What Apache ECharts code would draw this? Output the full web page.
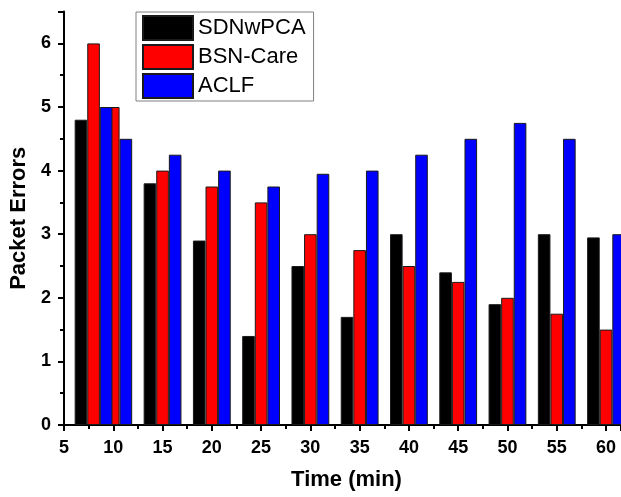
<!DOCTYPE html>
<html>
<head>
<meta charset="utf-8">
<script src="https://cdn.jsdelivr.net/npm/echarts@6/dist/echarts.min.js"></script>
<style>
html,body{margin:0;padding:0;background:#fff;}
#chart{width:621px;height:497px;}
</style>
</head>
<body>
<div id="chart"></div>
<script>
// Data
var times = [8, 10, 15, 20, 25, 30, 35, 40, 45, 50, 55, 60];
var sdnwpca = [4.8, null, 3.8, 2.9, 1.4, 2.5, 1.7, 3.0, 2.4, 1.9, 3.0, 2.95];
var bsnCare = [6.0, 5.0, 4.0, 3.75, 3.5, 3.0, 2.75, 2.5, 2.25, 2.0, 1.75, 1.5];
var aclf = [5.0, 4.5, 4.25, 4.0, 3.75, 3.95, 4.0, 4.25, 4.5, 4.75, 4.5, 3.0];
var seriesNames = ['SDNwPCA', 'BSN-Care', 'ACLF'];
var seriesColors = ['#000000', '#ff0000', '#0000ff'];

function pairs(vals) {
  return times.map(function (t, i) { return [t, vals[i]]; });
}

var font = '"Liberation Sans", Arial, sans-serif';
var chart = echarts.init(document.getElementById('chart'), null, {renderer: 'canvas'});
var allVals = [sdnwpca, bsnCare, aclf];

chart.setOption({
  animation: false,
  backgroundColor: '#ffffff',
  grid: {left: 64, right: 0, top: 11.6, bottom: 72, containLabel: false, outerBoundsMode: 'none'},
  legend: {
    orient: 'vertical',
    left: 136,
    top: 12,
    itemWidth: 50,
    itemHeight: 24,
    itemGap: 3,
    padding: [3, 8, 2, 6],
    borderColor: '#808080',
    borderWidth: 1,
    icon: 'rect',
    data: seriesNames,
    textStyle: {fontFamily: font, fontSize: 22, color: '#000'}
  },
  xAxis: {
    type: 'value',
    min: 5,
    max: 61.52,
    interval: 5,
    name: 'Time (min)',
    nameLocation: 'middle',
    nameGap: 44,
    nameTextStyle: {fontFamily: font, fontSize: 22, fontWeight: 'bold', color: '#000', padding: [0, 0, 0, 8]},
    splitLine: {show: false},
    axisLine: {show: true, onZero: false, lineStyle: {color: '#000', width: 2}},
    axisTick: {show: true, inside: false, length: 6, lineStyle: {color: '#000', width: 2}},
    minorTick: {show: true, splitNumber: 2, length: 4, lineStyle: {color: '#000', width: 2}},
    axisLabel: {fontFamily: font, fontSize: 18, fontWeight: 'bold', color: '#000', margin: 14, showMaxLabel: false}
  },
  yAxis: {
    type: 'value',
    min: 0,
    max: 6.5,
    interval: 1,
    name: 'Packet Errors',
    nameLocation: 'middle',
    nameGap: 29,
    nameTextStyle: {fontFamily: font, fontSize: 22, fontWeight: 'bold', color: '#000'},
    splitLine: {show: false},
    axisLine: {show: true, lineStyle: {color: '#000', width: 2}},
    axisTick: {show: true, inside: false, length: 6, lineStyle: {color: '#000', width: 2}},
    minorTick: {show: true, splitNumber: 2, length: 4, lineStyle: {color: '#000', width: 2}},
    axisLabel: {fontFamily: font, fontSize: 18, fontWeight: 'bold', color: '#000', margin: 13, showMaxLabel: false}
  },
  series: seriesNames.map(function (n, i) {
    return {
      name: n,
      type: 'bar',
      data: pairs(allVals[i]),
      barWidth: 12.6,
      barGap: '0%',
      clip: true,
      itemStyle: {color: seriesColors[i], borderColor: '#1a1a1a', borderWidth: 1}
    };
  })
});
</script>
</body>
</html>
